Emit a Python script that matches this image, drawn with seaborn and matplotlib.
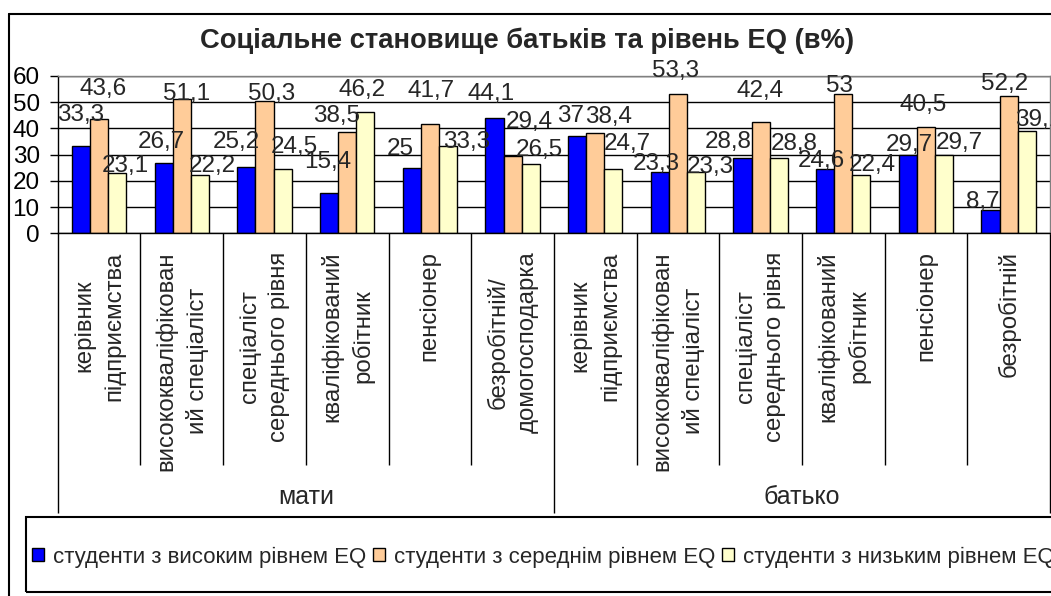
import numpy as np
import pandas as pd
import matplotlib
matplotlib.use("Agg")
import matplotlib.pyplot as plt
import seaborn as sns
from matplotlib.patches import Patch, Rectangle
from matplotlib.lines import Line2D

# ---------------- data ----------------
title = "Соціальне становище батьків та рівень EQ (в%)"
parents = ["мати", "батько"]
occupations_mother = ["керівник\nпідприємства", "висококваліфікован\nий спеціаліст",
                      "спеціаліст\nсереднього рівня", "кваліфікований\nробітник",
                      "пенсіонер", "безробітній/\nдомогосподарка"]
occupations_father = ["керівник\nпідприємства", "висококваліфікован\nий спеціаліст",
                      "спеціаліст\nсереднього рівня", "кваліфікований\nробітник",
                      "пенсіонер", "безробітній"]
series_names = ["студенти з високим рівнем EQ", "студенти з середнім рівнем EQ",
                "студенти з низьким рівнем EQ"]
high_eq = [33.3, 26.7, 25.2, 15.4, 25, 44.1, 37, 23.3, 28.8, 24.6, 29.7, 8.7]
mid_eq = [43.6, 51.1, 50.3, 38.5, 41.7, 29.4, 38.4, 53.3, 42.4, 53, 40.5, 52.2]
low_eq = [23.1, 22.2, 24.5, 46.2, 33.3, 26.5, 24.7, 23.3, 28.8, 22.4, 29.7, 39.1]
y_ticks = [0, 10, 20, 30, 40, 50, 60]

# ---------------- style ----------------
colors = ["#0000FF", "#FFCC99", "#FFFFCC"]
# label offsets (pixels) relative to the bar top, per series
label_offsets = [
    [(0, 31), (-2.5, 21), (-10, 25), (-1, 31), (-12, 19), (-3.5, 24),
     (-6.5, 20), (-4, 8), (-14, 16), (-4, 8), (1, 10), (-8, 8.5)],
    [(4, 29.5), (5, 5.5), (7.5, 7.5), (-11, 16), (1, 33), (17, 34),
     (13, 16), (-2, 22.5), (-1, 31), (-3.5, 8), (-3, 22), (-4, 12.5)],
    [(8, 7), (12, 9.5), (11.5, 22), (-3.5, 22), (18.5, 4), (9, 14),
     (14, 25), (14, 5), (15, 14), (11, 10), (15, 12), (11.5, 11)],
]

sns.set_style("white")
plt.rcParams["font.family"] = ["Liberation Sans", "DejaVu Sans"]

W, H = 1051, 596
fig = plt.figure(figsize=(W / 100, H / 100), dpi=100)
x0, x1, ytop, ybot = 57.8, 1050, 76, 233.3
ax = fig.add_axes([x0 / W, 1 - ybot / H, (x1 - x0) / W, (ybot - ytop) / H])

occupations = occupations_mother + occupations_father
keys = [f"{p}|{i}" for p, occ in zip(parents, [occupations_mother, occupations_father])
        for i in range(len(occ))]
rows = []
for s, vals in zip(series_names, [high_eq, mid_eq, low_eq]):
    for k, v in zip(keys, vals):
        rows.append({"key": k, "series": s, "value": v})
df = pd.DataFrame(rows)

sns.barplot(data=df, x="key", y="value", hue="series", order=keys,
            hue_order=series_names, palette=colors, saturation=1,
            width=0.657, edgecolor="black", linewidth=1, legend=False, ax=ax)

ax.set_xlim(-0.5, len(keys) - 0.5)
ax.set_ylim(0, 60)
ax.set_yticks(y_ticks)
ax.set_yticklabels([str(t) for t in y_ticks], fontsize=17.5)
ax.tick_params(axis="y", direction="out", length=6, width=1, pad=7, colors="black", left=True)
ax.yaxis.grid(True, color="black", lw=1)
ax.set_axisbelow(True)
ax.set_xlabel("")
ax.set_ylabel("")

ax.set_xticks(range(len(keys)))
ax.set_xticklabels(occupations, rotation=90, fontsize=17.3, va="top", ha="center",
                   multialignment="center", linespacing=1.45)
ax.tick_params(axis="x", length=0, pad=13)

for sp in ["top", "right"]:
    ax.spines[sp].set_color("#808080")
for sp in ["left", "bottom"]:
    ax.spines[sp].set_color("black")
for sp in ax.spines.values():
    sp.set_linewidth(1)

# value labels
for cont, vals, offs in zip(ax.containers, [high_eq, mid_eq, low_eq], label_offsets):
    for bar, v, (dx, dy) in zip(cont.patches, vals, offs):
        txt = (f"{v:g}").replace(".", ",")
        ax.annotate(txt, (bar.get_x() + bar.get_width() / 2, bar.get_height()),
                    xytext=(dx, dy), textcoords="offset pixels",
                    ha="center", va="center", fontsize=17.5, annotation_clip=False)

# category separators (two-level axis)
xt = ax.get_xaxis_transform()
n = len(keys)
half = len(occupations_mother)
inner_b = [i + 0.5 for i in range(n - 1) if i + 1 != half]
outer_b = [-0.5, half - 0.5, n - 0.5]
ax.vlines(inner_b, -1.473, 0, transform=xt, color="black", lw=1, clip_on=False)
ax.vlines(outer_b, -1.778, 0, transform=xt, color="black", lw=1, clip_on=False)
ax.text((half - 1) / 2, -1.676, parents[0], transform=xt, ha="center", va="center", fontsize=18)
ax.text(half + (n - half - 1) / 2, -1.676, parents[1], transform=xt, ha="center", va="center", fontsize=18)

# title
fig.text(527 / W, 1 - 41 / H, title, ha="center", va="center", fontsize=19.7, fontweight="bold")

# outer chart frame
fig.add_artist(Line2D([9 / W, 1.02], [1 - 14 / H] * 2, color="black", lw=1.5, transform=fig.transFigure))
fig.add_artist(Line2D([9 / W, 9 / W], [1 - 14 / H, -0.02], color="black", lw=1.5, transform=fig.transFigure))

# legend box
fig.add_artist(Rectangle((26 / W, 1 - 591.7 / H), 1.0, 75 / H, transform=fig.transFigure,
                         fill=False, edgecolor="black", lw=1.5))
handles = [Patch(facecolor=c, edgecolor="black", lw=1) for c in colors]
fig.legend(handles, series_names, loc="center left", bbox_to_anchor=(32 / W, 1 - 557 / H),
           ncol=3, frameon=False, fontsize=16, handlelength=0.55, handleheight=0.55,
           handletextpad=0.4, columnspacing=0.3, borderpad=0, borderaxespad=0)

fig.savefig("out.png", dpi=100)
